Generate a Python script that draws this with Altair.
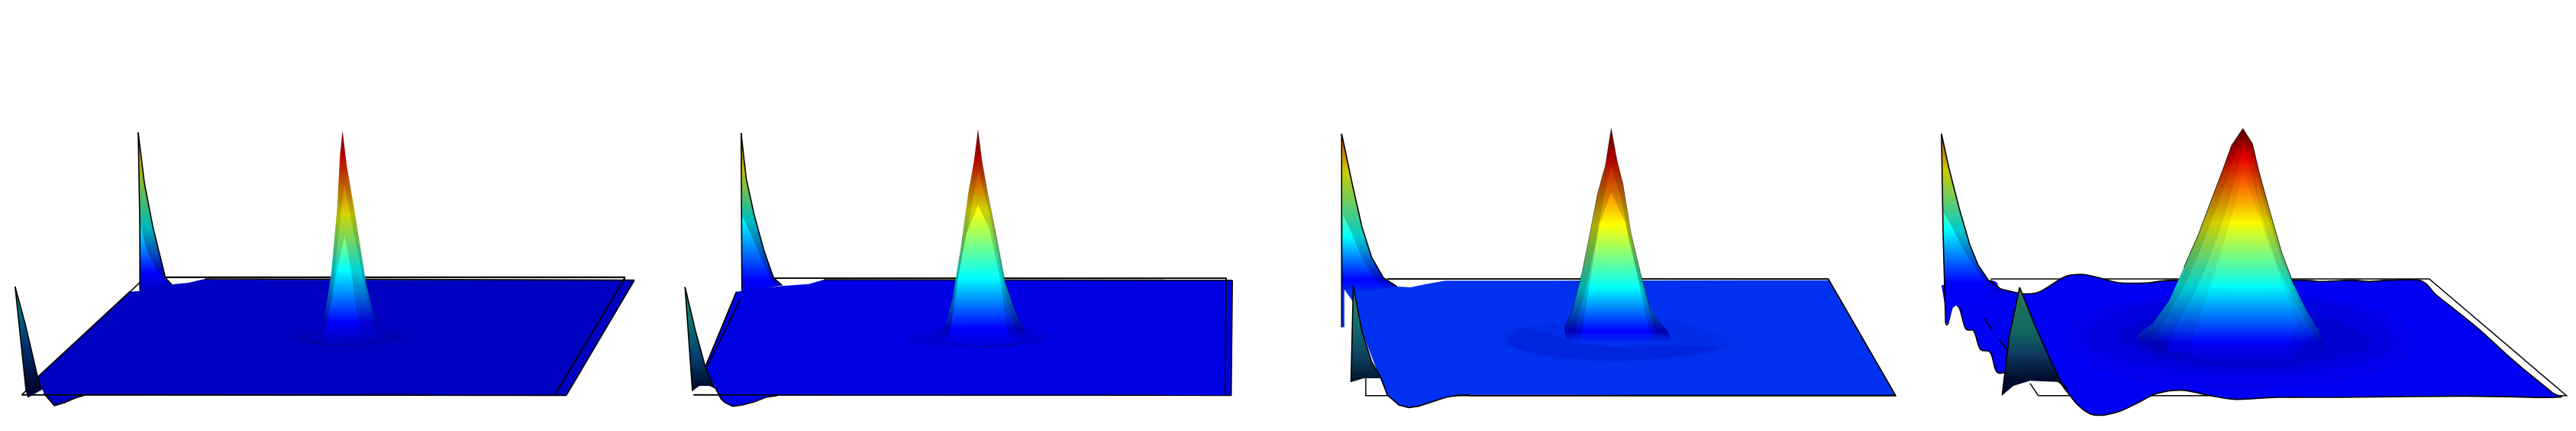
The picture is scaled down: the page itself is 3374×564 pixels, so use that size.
import altair as alt

# readings per panel: left offset of crop and horizontal reading scale
PANEL_X0 = [0, 860, 1720, 2520]
PANEL_SX = [1568 / 860, 1.96, 1.96, 1568 / 854]

# ---------- panel 1 ----------
P1_FRAME = [(52,1130),(1325,1130),(1492,670),(346,670),(52,1130)]
P1_SHEET = [(90,1060),(310,725),(335,722),(390,695),(410,697),(450,690),(490,675),(530,678),(1515,680),(1352,1133),(205,1130),(180,1142),(155,1160),(130,1172),(105,1125)]
P1_FRONT_LINES = [[(52,1130),(1352,1132)],[(1325,1130),(1492,672)],[(1492,668),(1490,680)],[(395,668),(1492,668)],[(1515,680),(1352,1133)],[(90,1060),(310,725)],[(205,1130),(180,1142),(155,1160),(130,1172),(105,1125)],[(490,675),(1515,680)]]
P1_DIMPLE = [(700,905),(750,885),(830,878),(910,880),(965,900),(930,925),(860,935),(780,935),(730,925)]
P1_PEAK = [(818,93),(812,190),(805,400),(790,670),(775,820),(765,870),(735,900),(780,930),(860,928),(925,900),(915,890),(890,800),(875,700),(850,440),(828,230)]
P1_PEAK_MID = [(822,300),(810,480),(798,670),(785,800),(772,890),(810,925),(880,920),(895,880),(880,780),(868,680),(842,470)]
P1_PEAK_IN = [(823,505),(805,640),(790,780),(775,910),(865,915),(850,780),(838,640)]
P1_BASE_DOTS = [(725,920),(790,935),(870,930),(945,905)]
P1_BACK = [(330,100),(345,300),(365,470),(395,670),(410,697),(335,722),(333,470)]
P1_BACK_IN = [(336,470),(350,560),(370,630),(392,675),(400,697),(336,722)]
P1_BACK_EDGE = [(330,100),(345,300),(365,470),(395,670),(410,697)]
P1_BACK_LEFT = [(330,100),(334,470),(334,722)]
P1_FRONT = [(36,705),(62,1110),(68,1140),(100,1110),(90,1060),(60,850)]
P1_FRONT_EDGE = [(36,705),(60,850),(90,1060),(100,1110)]
P1_FRONT_LEFT = [(36,705),(62,1110),(68,1140)]

# ---------- panel 2 ----------
P2_FRAME = [(95,1130),(1460,1130),(1462,672),(300,672)]
P2_SHEET = [(205,725),(320,703),(390,695),(430,678),(1478,680),(1475,1133),(310,1133),(280,1140),(250,1158),(220,1170),(195,1175),(175,1160),(165,1145),(125,1020)]
P2_FRONT_LINES = [[(95,1130),(1475,1132)],[(1460,1130),(1462,672)],[(300,672),(1462,672)],[(1478,680),(1475,1133)],[(215,755),(130,1020)],[(230,700),(222,730)],[(205,725),(125,1020)],[(310,1133),(280,1140),(250,1158),(220,1170),(195,1175),(175,1160),(165,1145),(150,1100)],[(430,678),(1478,680)]]
P2_DIMPLE = [(640,905),(700,875),(820,865),(950,870),(1015,905),(940,940),(820,950),(700,940)]
P2_PEAK = [(825,90),(815,210),(800,340),(780,560),(760,750),(740,860),(725,905),(820,938),(945,915),(945,880),(920,800),(895,690),(870,490),(850,340),(835,210)]
P2_PEAK_MID = [(825,250),(805,420),(785,610),(765,780),(745,920),(930,920),(900,770),(880,610),(860,460),(840,330)]
P2_PEAK_IN = [(825,385),(795,500),(775,660),(750,925),(905,925),(880,660),(855,480)]
P2_PEAK_EDGE = [(825,90),(835,210),(850,340),(870,490),(895,690),(920,800),(945,880)]
P2_BASE_DOTS = [(725,915),(800,940),(880,940),(945,925)]
P2_BACK = [(217,102),(230,280),(250,420),(275,560),(300,670),(322,700),(220,730)]
P2_BACK_IN = [(220,430),(245,510),(270,600),(295,680),(310,700),(220,725)]
P2_BACK_EDGE = [(217,102),(230,280),(250,420),(275,560),(300,670),(322,700)]
P2_BACK_LEFT = [(217,102),(219,725)]
P2_FRONT = [(73,707),(92,1115),(110,1095),(135,1095),(150,1105),(125,1020),(100,880)]
P2_FRONT_EDGE = [(73,707),(100,880),(125,1020),(150,1105)]
P2_FRONT_LEFT = [(73,707),(92,1115)]

# ---------- panel 3 ----------
P3_FRAME = [(135,1065),(135,1133),(1495,1133),(1322,675),(190,675)]
P3_SHEET = [(75,705),(105,715),(180,670),(215,705),(250,708),(290,695),(340,682),(1322,680),(1493,1133),(400,1130),(370,1132),(340,1140),(300,1160),(270,1175),(245,1180),(220,1170),(190,1130),(170,1060),(125,880),(100,760)]
P3_FRONT_LINES = [[(400,1133),(1495,1133)],[(1495,1133),(1322,675)],[(190,675),(1322,675)],[(400,1130),(370,1132),(340,1140),(300,1160),(270,1175),(245,1180),(220,1170),(190,1130)]]
P3_DIMPLE_OUT = [(480,900),(600,850),(800,830),(950,850),(1080,930),(950,985),(770,1000),(600,985)]
P3_DIMPLE_IN = [(540,870),(620,900),(720,935),(820,945),(930,935),(1040,950),(900,985),(760,995),(600,975),(500,930)]
P3_PEAK = [(765,85),(750,230),(730,340),(710,500),(690,650),(665,800),(645,870),(650,915),(780,940),(915,915),(915,890),(890,840),(865,790),(840,650),(815,490),(795,300),(780,210)]
P3_PEAK_MID = [(765,230),(745,360),(725,530),(705,680),(680,830),(665,925),(890,925),(870,840),(835,670),(810,510),(790,360)]
P3_PEAK_IN = [(765,335),(735,460),(715,640),(685,930),(870,930),(830,650),(800,450)]
P3_PEAK_EDGE = [(765,85),(780,210),(795,300),(815,490),(840,650),(865,790)]
P3_PEAK_EDGE_L = [(765,85),(750,230),(730,340),(710,500),(690,650),(665,800),(645,870)]
P3_BACK = [(73,105),(100,300),(125,470),(150,590),(180,670),(215,705),(130,722),(80,715),(80,865),(73,865)]
P3_BACK_IN = [(76,420),(100,500),(125,590),(155,670),(185,705),(130,722),(78,705)]
P3_BACK_EDGE = [(73,105),(100,300),(125,470),(150,590),(180,670),(215,705)]
P3_BACK_LEFT = [(73,105),(73,865)]
P3_FRONT = [(103,703),(97,1080),(130,1065),(175,1065),(190,1130),(175,1065),(150,1000),(125,880)]
P3_FRONT_EDGE = [(103,703),(125,880),(150,1000),(175,1065),(190,1130)]
P3_FRONT_LEFT = [(103,703),(97,1080)]

# ---------- panel 4 ----------
P4_FRAME = [(255,1085),(275,1133),(1545,1133),(1215,675),(160,675)]
P4_SHEET = [(42,700),(160,680),(185,715),(230,732),(270,730),(300,705),(340,665),(380,657),(420,670),(470,690),(540,690),(610,680),(900,680),(950,685),(1030,680),(1070,685),(1120,680),(1195,682),(1230,735),(1280,800),(1340,880),(1400,970),(1450,1040),(1510,1120),(1518,1140),(1300,1135),(1000,1140),(850,1140),(750,1148),(680,1130),(620,1112),(560,1125),(510,1165),(470,1195),(430,1210),(400,1205),(370,1170),(340,1110),(320,1075),(260,1040),(205,1040),(175,1040),(160,965),(135,950),(120,880),(100,870),(85,790),(70,780),(58,850)]
P4_SHEET_EDGE = P4_SHEET[1:] + [(52,850)]
P4_DASHES = [[(100,730),(125,790)],[(145,832),(165,875)],[(180,910),(205,965)]]
P4_RING_OUT = [(330,900),(430,790),(600,740),(770,730),(960,745),(1110,810),(1190,920),(1110,1030),(950,1090),(770,1105),(580,1090),(420,1030)]
P4_RING_MID = [(380,900),(480,800),(620,760),(770,750),(950,765),(1080,830),(1130,930),(1060,1000),(930,1035),(770,1045),(610,1030),(460,985)]
P4_RING_IN = [(470,890),(560,820),(700,790),(850,790),(990,840),(1080,930),(980,990),(850,1020),(690,1015),(540,970)]
P4_PEAK = [(767,85),(740,150),(720,240),(690,370),(660,500),(625,630),(590,760),(550,850),(520,885),(510,905),(540,955),(670,1005),(880,1012),(965,950),(950,880),(920,800),(890,700),(860,570),(830,400),(805,250),(790,145)]
P4_PEAK_MID = [(767,115),(748,190),(725,300),(695,430),(665,560),(630,690),(590,810),(555,900),(670,1000),(880,1006),(955,950),(925,840),(890,720),(855,580),(825,420),(800,270),(785,170)]
P4_PEAK_IN = [(767,150),(755,240),(735,360),(710,490),(680,620),(645,750),(605,860),(585,960),(880,995),(935,890),(890,760),(850,620),(820,470),(795,320),(780,220)]
P4_PEAK_CORE = [(767,250),(745,400),(720,540),(695,670),(650,880),(640,980),(860,995),(900,850),(860,680),(825,520),(795,380)]
P4_PEAK_EDGE = [(767,85),(790,145),(805,250),(830,400),(860,570),(890,700)]
P4_PEAK_EDGE_L = [(767,85),(740,150),(720,240),(690,370),(660,500),(625,630)]
P4_BASE_DOTS = [(520,965),(670,1012),(875,1022)]
P4_BACK = [(42,105),(60,240),(85,400),(110,540),(130,620),(155,680),(185,715),(230,732),(120,790),(85,780),(70,780),(58,850),(52,850)]
P4_BACK_IN = [(46,410),(70,480),(95,560),(130,650),(165,715),(125,785),(80,775),(60,800),(50,780)]
P4_BACK_EDGE = [(42,105),(60,240),(85,400),(110,540),(130,620),(155,680),(185,715),(230,732)]
P4_BACK_LEFT = [(42,105),(46,500),(52,850)]
P4_FRONT = [(230,708),(205,900),(188,1132),(215,1095),(255,1075),(330,1080),(300,980),(265,850)]
P4_FRONT_EDGE = [(230,708),(265,850),(300,980),(330,1080),(345,1110)]
P4_FRONT_LEFT = [(230,708),(205,900),(188,1132)]

# height colour ramp reference rows: darkest top, red, yellow, cyan, blue, sheet colour
RAMP_COLORS = ["#800000", "#ff0000", "#ffff00", "#00ffff", "#0000ff"]
P1_SHEET_COLOR, P2_SHEET_COLOR, P3_SHEET_COLOR, P4_SHEET_COLOR = "#0000c0", "#0000e4", "#0030f0", "#0000f4"
P1_ROWS = [93, 190, 420, 640, 845, 915]
P2_ROWS = [90, 200, 400, 670, 870, 925]
P3_ROWS = [85, 200, 460, 710, 880, 925]
P4_ROWS = [85, 200, 455, 705, 925, 1000]
P1_BACK_ROWS = [-40, 60, 215, 470, 650, 722]
P2_BACK_ROWS = [-60, 40, 250, 440, 680, 725]
P3_BACK_ROWS = [-60, 40, 250, 510, 680, 730]
P4_BACK_ROWS = [-60, 40, 250, 480, 690, 760]
P1_FRONT_COLORS = [(705, "#007868"), (800, "#006c80"), (950, "#002c70"), (1090, "#000830"), (1140, "#000040")]
P2_FRONT_COLORS = [(707, "#2a8060"), (850, "#107070"), (980, "#004070"), (1090, "#001030")]
P3_FRONT_COLORS = [(703, "#38805c"), (850, "#107070"), (980, "#104060"), (1070, "#001830")]
P4_FRONT_COLORS = [(708, "#2a7858"), (880, "#106860"), (970, "#103860"), (1060, "#001030"), (1132, "#000828")]

X_SCALE = alt.Scale(domain=[8, 3366], range=[0, 3358], nice=False, zero=False)
Y_SCALE = alt.Scale(domain=[8, 556], range=[0, 548], nice=False, zero=False)


def rgb(h):
    return [int(h[i:i + 2], 16) for i in (1, 3, 5)]


def hexa(c):
    return "#%02x%02x%02x" % tuple(max(0, min(255, round(v))) for v in c)


def shade(h, k):
    return hexa([v * k for v in rgb(h)])


def color_at(stops, y):
    if y <= stops[0][0]:
        return stops[0][1]
    for (a, ca), (b, cb) in zip(stops, stops[1:]):
        if y <= b:
            t = (y - a) / (b - a)
            return hexa([u + (v - u) * t for u, v in zip(rgb(ca), rgb(cb))])
    return stops[-1][1]


def ramp(rows_, base):
    return list(zip(rows_, RAMP_COLORS + [base]))


def paint(stops, pts, k):
    if isinstance(stops, str):
        return shade(stops, k)
    # shading fades out at the last stop, where the surface meets the sheet
    s = [(y, shade(c, k)) for y, c in stops[:-1]] + [stops[-1]]
    ys = [p[1] for p in pts]
    lo, hi = min(ys), max(ys)
    inner = [(y, c) for y, c in s if lo < y < hi]
    full = [(lo, color_at(s, lo))] + inner + [(hi, color_at(s, hi))]
    return alt.Gradient(
        gradient="linear", x1=0, y1=0, x2=0, y2=1,
        stops=[alt.GradientStop(offset=(y - lo) / (hi - lo), color=c) for y, c in full],
    )


def rows(p, pts):
    return alt.Data(values=[
        {"x": PANEL_X0[p] + a / PANEL_SX[p], "y": 140 + b / 3, "i": i}
        for i, (a, b) in enumerate(pts)
    ])


def enc(m):
    return m.encode(
        x=alt.X("x:Q", scale=X_SCALE, axis=None),
        y=alt.Y("y:Q", scale=Y_SCALE, axis=None),
        order=alt.Order("i:Q"),
    )


def fill(p, pts, stops, k=1.0, opacity=1.0, interp="linear"):
    closed = list(pts) + ([pts[0]] if interp == "linear" else [])
    m = alt.Chart(rows(p, closed)).mark_line(
        fill=paint(stops, pts, k), strokeWidth=0, fillOpacity=opacity, interpolate=interp, clip=False
    )
    return enc(m)


def line(p, pts, w=1.6, color="black", interp="linear", dash=None, opacity=1.0):
    kw = {"strokeDash": dash} if dash else {}
    return enc(alt.Chart(rows(p, pts)).mark_line(color=color, strokeWidth=w, interpolate=interp, opacity=opacity, **kw))


layers = []

# panel 1
layers += [line(0, P1_FRAME, 1.5), fill(0, P1_SHEET, P1_SHEET_COLOR)]
layers += [fill(0, P1_DIMPLE, "#000098", opacity=0.35, interp="cardinal-closed")]
layers += [line(0, l, 1.7) for l in P1_FRONT_LINES]
layers += [fill(0, P1_BACK, ramp(P1_BACK_ROWS, P1_SHEET_COLOR), 0.72), fill(0, P1_BACK_IN, ramp(P1_BACK_ROWS, P1_SHEET_COLOR), 1.0),
           line(0, P1_BACK_EDGE), line(0, P1_BACK_LEFT)]
layers += [fill(0, P1_PEAK, ramp(P1_ROWS, P1_SHEET_COLOR), 0.72), fill(0, P1_PEAK_MID, ramp(P1_ROWS, P1_SHEET_COLOR), 0.84),
           fill(0, P1_PEAK_IN, ramp(P1_ROWS, P1_SHEET_COLOR), 1.0), line(0, P1_BASE_DOTS, 0.7, dash=[3, 9], opacity=0.7)]
layers += [fill(0, P1_FRONT, P1_FRONT_COLORS), line(0, P1_FRONT_EDGE), line(0, P1_FRONT_LEFT)]

# panel 2
layers += [line(1, P2_FRAME, 1.5), fill(1, P2_SHEET, P2_SHEET_COLOR)]
layers += [fill(1, P2_DIMPLE, "#0000b0", opacity=0.3, interp="cardinal-closed")]
layers += [line(1, l, 1.7) for l in P2_FRONT_LINES]
layers += [fill(1, P2_BACK, ramp(P2_BACK_ROWS, P2_SHEET_COLOR), 0.75), fill(1, P2_BACK_IN, ramp(P2_BACK_ROWS, P2_SHEET_COLOR), 1.0),
           line(1, P2_BACK_EDGE), line(1, P2_BACK_LEFT)]
layers += [fill(1, P2_PEAK, ramp(P2_ROWS, P2_SHEET_COLOR), 0.7), fill(1, P2_PEAK_MID, ramp(P2_ROWS, P2_SHEET_COLOR), 0.82),
           fill(1, P2_PEAK_IN, ramp(P2_ROWS, P2_SHEET_COLOR), 1.0), line(1, P2_BASE_DOTS, 0.7, dash=[4, 9], opacity=0.7),
           line(1, P2_PEAK_EDGE, 0.6, opacity=0.5)]
layers += [fill(1, P2_FRONT, P2_FRONT_COLORS), line(1, P2_FRONT_EDGE), line(1, P2_FRONT_LEFT)]

# panel 3
layers += [line(2, P3_FRAME, 1.5), fill(2, P3_SHEET, P3_SHEET_COLOR)]
layers += [fill(2, P3_DIMPLE_OUT, "#0028d8", opacity=0.35, interp="cardinal-closed"),
           fill(2, P3_DIMPLE_IN, "#0014c8", opacity=0.3, interp="cardinal-closed")]
layers += [line(2, l, 1.7) for l in P3_FRONT_LINES]
layers += [fill(2, P3_BACK, ramp(P3_BACK_ROWS, P3_SHEET_COLOR), 0.8), fill(2, P3_BACK_IN, ramp(P3_BACK_ROWS, P3_SHEET_COLOR), 1.0),
           line(2, P3_BACK_EDGE), line(2, P3_BACK_LEFT)]
layers += [fill(2, P3_PEAK, ramp(P3_ROWS, P3_SHEET_COLOR), 0.68), fill(2, P3_PEAK_MID, ramp(P3_ROWS, P3_SHEET_COLOR), 0.82),
           fill(2, P3_PEAK_IN, ramp(P3_ROWS, P3_SHEET_COLOR), 1.0),
           line(2, P3_PEAK_EDGE, 0.7, opacity=0.6), line(2, P3_PEAK_EDGE_L, 0.7, opacity=0.6)]
layers += [fill(2, P3_FRONT, P3_FRONT_COLORS), line(2, P3_FRONT_EDGE), line(2, P3_FRONT_LEFT)]

# panel 4
layers += [line(3, P4_FRAME, 1.5), fill(3, P4_SHEET, P4_SHEET_COLOR, interp="cardinal")]
layers += [line(3, P4_SHEET_EDGE, 1.6, interp="cardinal")]
layers += [fill(3, P4_RING_OUT, "#0000e0", opacity=0.5, interp="cardinal-closed"),
           fill(3, P4_RING_MID, "#0000d0", opacity=0.45, interp="cardinal-closed"),
           fill(3, P4_RING_IN, "#0000c0", opacity=0.45, interp="cardinal-closed")]
layers += [line(3, l, 1.6) for l in P4_DASHES]
layers += [fill(3, P4_BACK, ramp(P4_BACK_ROWS, P4_SHEET_COLOR), 0.8), fill(3, P4_BACK_IN, ramp(P4_BACK_ROWS, P4_SHEET_COLOR), 1.0),
           line(3, P4_BACK_EDGE), line(3, P4_BACK_LEFT)]
layers += [fill(3, P4_PEAK, ramp(P4_ROWS, "#0000d0"), 0.72), fill(3, P4_PEAK_MID, ramp(P4_ROWS, "#0000d0"), 0.82),
           fill(3, P4_PEAK_IN, ramp(P4_ROWS, "#0000d0"), 0.91), fill(3, P4_PEAK_CORE, ramp(P4_ROWS, "#0000d0"), 0.98),
           line(3, P4_BASE_DOTS, 0.7, dash=[2, 10], opacity=0.7),
           line(3, P4_PEAK_EDGE, 0.8), line(3, P4_PEAK_EDGE_L, 0.8)]
layers += [fill(3, P4_FRONT, P4_FRONT_COLORS), line(3, P4_FRONT_EDGE), line(3, P4_FRONT_LEFT)]

chart = alt.layer(*layers).properties(
    width=3358, height=548, padding=0,
    autosize=alt.AutoSizeParams(type="none"),
).configure_view(stroke=None)

chart.save("out.html", embed_options={"renderer": "svg", "actions": False})
